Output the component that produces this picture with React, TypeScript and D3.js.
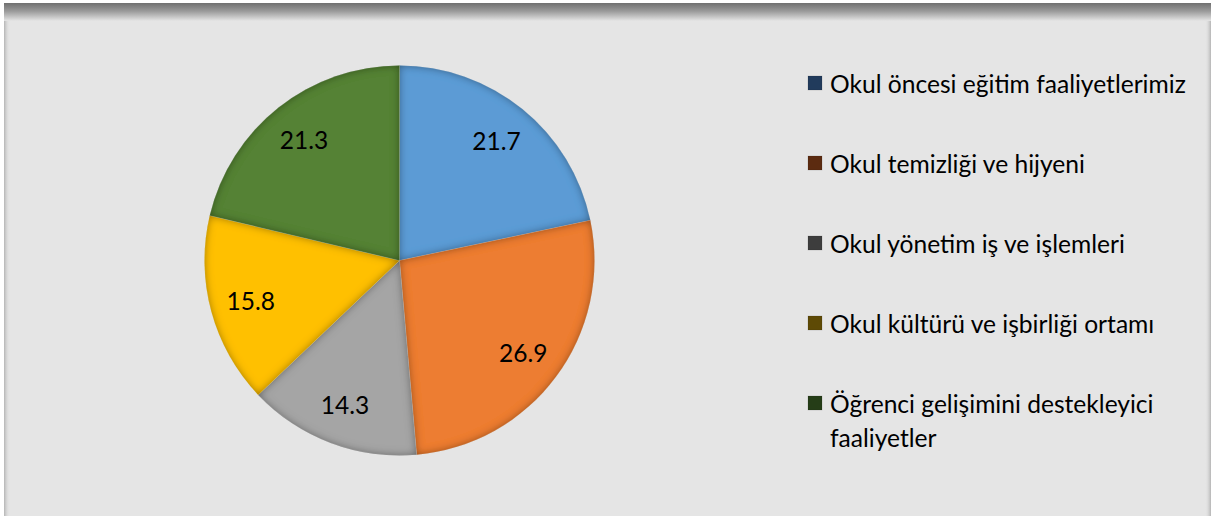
import React from "react";
import * as d3 from "d3";

const categories = [
  "Okul öncesi eğitim faaliyetlerimiz",
  "Okul temizliği ve hijyeni",
  "Okul yönetim iş ve işlemleri",
  "Okul kültürü ve işbirliği ortamı",
  "Öğrenci gelişimini destekleyici faaliyetler",
];
const values = [21.7, 26.9, 14.3, 15.8, 21.3];
const sliceColors = ["#5b9bd5", "#ed7d31", "#a5a5a5", "#ffc000", "#548235"];
const legendColors = ["#213b5c", "#5c2b10", "#3d3d3d", "#5e4a05", "#253d17"];
const legendLines = [
  ["Okul öncesi eğitim faaliyetlerimiz"],
  ["Okul temizliği ve hijyeni"],
  ["Okul yönetim iş ve işlemleri"],
  ["Okul kültürü ve işbirliği ortamı"],
  ["Öğrenci gelişimini destekleyici", "faaliyetler"],
];

const W = 1215;
const H = 516;
const FONT = "Lato, 'Open Sans', sans-serif";

export default function App() {
  const cx = 399.5;
  const cy = 260.5;
  const r = 195;
  const pie = d3.pie<number>().sort(null).value((d) => d)(values);
  const arc = d3.arc<d3.PieArcDatum<number>>().innerRadius(0).outerRadius(r);
  const labelArc = d3
    .arc<d3.PieArcDatum<number>>()
    .innerRadius(r * 0.79)
    .outerRadius(r * 0.79);

  const legendY = d3.scaleLinear().domain([0, 4]).range([83, 403]);

  return (
    <div style={{ position: "absolute", left: 0, top: 0, width: W, height: H, overflow: "hidden" }}>
      <svg width={W} height={H} style={{ display: "block" }}>
        <defs>
          <linearGradient id="topShade" x1="0" y1="0" x2="0" y2="1">
            <stop offset="0" stopColor="#707070" />
            <stop offset="0.45" stopColor="#9a9a9a" />
            <stop offset="1" stopColor="#e5e5e5" />
          </linearGradient>
          <linearGradient id="leftShade" x1="0" y1="0" x2="1" y2="0">
            <stop offset="0" stopColor="#b5b5b5" />
            <stop offset="1" stopColor="#e5e5e5" stopOpacity="0" />
          </linearGradient>
          <linearGradient id="rightShade" x1="1" y1="0" x2="0" y2="0">
            <stop offset="0" stopColor="#b5b5b5" />
            <stop offset="1" stopColor="#e5e5e5" stopOpacity="0" />
          </linearGradient>
          <filter id="inner" x="-10%" y="-10%" width="120%" height="120%">
            <feFlood floodColor="#000" floodOpacity="0.75" result="flood" />
            <feComposite in="flood" in2="SourceAlpha" operator="out" result="outside" />
            <feGaussianBlur in="outside" stdDeviation="4" result="blur" />
            <feComposite in="blur" in2="SourceAlpha" operator="in" result="shadow" />
            <feMerge>
              <feMergeNode in="SourceGraphic" />
              <feMergeNode in="shadow" />
            </feMerge>
          </filter>
        </defs>
        <rect x={0} y={0} width={W} height={H} fill="#ffffff" />
        <rect x={4} y={3} width={W - 8} height={H} fill="#e5e5e5" />
        <rect x={4} y={3} width={6} height={H} fill="url(#leftShade)" />
        <rect x={W - 10} y={3} width={6} height={H} fill="url(#rightShade)" />
        <rect x={4} y={3} width={W - 8} height={18} fill="url(#topShade)" />

        <g transform={`translate(${cx},${cy})`}>
          {pie.map((p, i) => (
            <path
              key={i}
              d={arc(p) || ""}
              fill={sliceColors[i]}
              filter="url(#inner)"
              stroke="#ffffff"
              strokeOpacity={0.25}
              strokeWidth={0.6}
            />
          ))}
          {pie.map((p, i) => {
            const [x, y] = labelArc.centroid(p);
            return (
              <text
                key={i}
                x={x}
                y={y}
                textAnchor="middle"
                dominantBaseline="central"
                fontFamily={FONT}
                fontSize={24.5}
                fill="#000"
              >
                {values[i].toFixed(1)}
              </text>
            );
          })}
        </g>

        <g>
          {categories.map((c, i) => (
            <g key={c} transform={`translate(0,${legendY(i)})`}>
              <rect x={808} y={-7} width={14} height={14} fill={legendColors[i]} stroke="#1a1a1a" strokeOpacity={0.3} strokeWidth={0.5} />
              {legendLines[i].map((ln, j) => (
                <text
                  key={j}
                  x={830}
                  y={j * 34}
                  dominantBaseline="central"
                  fontFamily={FONT}
                  fontSize={24.6}
                  fill="#000"
                >
                  {ln}
                </text>
              ))}
            </g>
          ))}
        </g>
      </svg>
    </div>
  );
}
